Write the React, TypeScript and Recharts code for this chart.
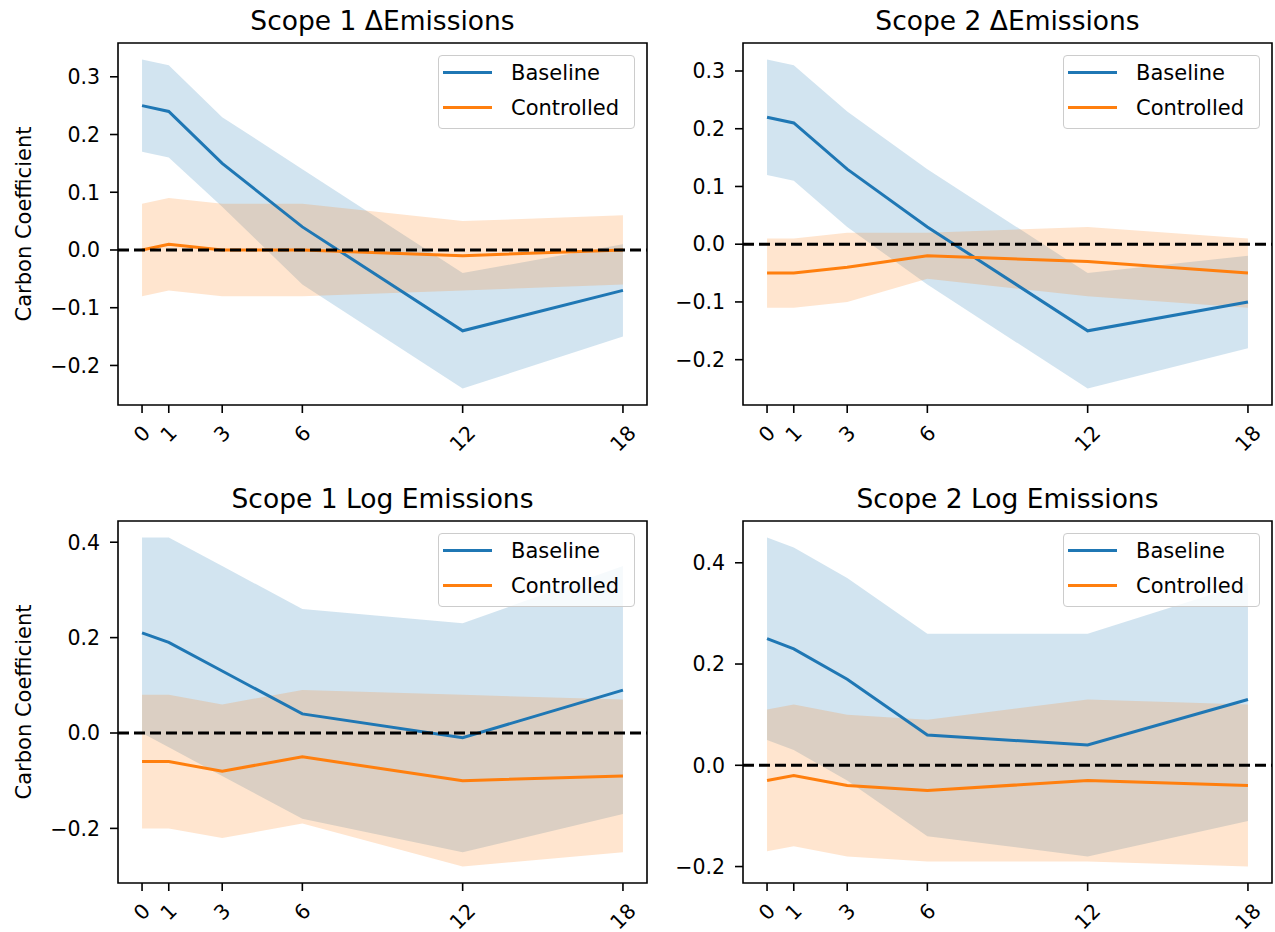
import React from 'react';
import {
    ComposedChart,
    Area,
    Line,
    XAxis,
    YAxis,
    ReferenceLine,
    ReferenceArea,
    Legend,
} from 'recharts';

const FONT = '"DejaVu Sans", sans-serif';
const BLUE = '#1f77b4';
const ORANGE = '#ff7f0e';

const months = [0, 1, 3, 6, 12, 18];
const seriesNames = ['Baseline', 'Controlled'];
const deltaTicks = [-0.2, -0.1, 0, 0.1, 0.2, 0.3];
const logTicks = [-0.2, 0, 0.2, 0.4];

// Scope 1 ΔEmissions
const s1DeltaBase = [0.25, 0.24, 0.15, 0.04, -0.14, -0.07];
const s1DeltaBaseLo = [0.17, 0.16, 0.075, -0.06, -0.24, -0.15];
const s1DeltaBaseHi = [0.33, 0.32, 0.23, 0.14, -0.04, 0.01];
const s1DeltaCtrl = [0.0, 0.01, 0.0, 0.0, -0.01, 0.0];
const s1DeltaCtrlLo = [-0.08, -0.07, -0.08, -0.08, -0.07, -0.06];
const s1DeltaCtrlHi = [0.08, 0.09, 0.08, 0.08, 0.05, 0.06];

// Scope 2 ΔEmissions
const s2DeltaBase = [0.22, 0.21, 0.13, 0.03, -0.15, -0.1];
const s2DeltaBaseLo = [0.12, 0.11, 0.03, -0.07, -0.25, -0.18];
const s2DeltaBaseHi = [0.32, 0.31, 0.23, 0.13, -0.05, -0.02];
const s2DeltaCtrl = [-0.05, -0.05, -0.04, -0.02, -0.03, -0.05];
const s2DeltaCtrlLo = [-0.11, -0.11, -0.1, -0.06, -0.09, -0.11];
const s2DeltaCtrlHi = [0.01, 0.01, 0.02, 0.02, 0.03, 0.01];

// Scope 1 Log Emissions
const s1LogBase = [0.21, 0.19, 0.13, 0.04, -0.01, 0.09];
const s1LogBaseLo = [0.0, -0.03, -0.09, -0.18, -0.25, -0.17];
const s1LogBaseHi = [0.41, 0.41, 0.35, 0.26, 0.23, 0.35];
const s1LogCtrl = [-0.06, -0.06, -0.08, -0.05, -0.1, -0.09];
const s1LogCtrlLo = [-0.2, -0.2, -0.22, -0.19, -0.28, -0.25];
const s1LogCtrlHi = [0.08, 0.08, 0.06, 0.09, 0.08, 0.07];

// Scope 2 Log Emissions
const s2LogBase = [0.25, 0.23, 0.17, 0.06, 0.04, 0.13];
const s2LogBaseLo = [0.05, 0.03, -0.03, -0.14, -0.18, -0.11];
const s2LogBaseHi = [0.45, 0.43, 0.37, 0.26, 0.26, 0.36];
const s2LogCtrl = [-0.03, -0.02, -0.04, -0.05, -0.03, -0.04];
const s2LogCtrlLo = [-0.17, -0.16, -0.18, -0.19, -0.19, -0.2];
const s2LogCtrlHi = [0.11, 0.12, 0.1, 0.09, 0.13, 0.12];

// plot frame geometry (matplotlib-like layout)
const FRAME_W = 529;
const FRAME_H = 362;
const AXIS_W = 110;
const TOP = 43;

const panels = [
    {
        title: 'Scope 1 ΔEmissions', left: 118, top: 43, yLabel: true, ticks: deltaTicks,
        base: s1DeltaBase, baseLo: s1DeltaBaseLo, baseHi: s1DeltaBaseHi,
        ctrl: s1DeltaCtrl, ctrlLo: s1DeltaCtrlLo, ctrlHi: s1DeltaCtrlHi,
    },
    {
        title: 'Scope 2 ΔEmissions', left: 743, top: 43, yLabel: false, ticks: deltaTicks,
        base: s2DeltaBase, baseLo: s2DeltaBaseLo, baseHi: s2DeltaBaseHi,
        ctrl: s2DeltaCtrl, ctrlLo: s2DeltaCtrlLo, ctrlHi: s2DeltaCtrlHi,
    },
    {
        title: 'Scope 1 Log Emissions', left: 118, top: 521, yLabel: true, ticks: logTicks,
        base: s1LogBase, baseLo: s1LogBaseLo, baseHi: s1LogBaseHi,
        ctrl: s1LogCtrl, ctrlLo: s1LogCtrlLo, ctrlHi: s1LogCtrlHi,
    },
    {
        title: 'Scope 2 Log Emissions', left: 743, top: 521, yLabel: false, ticks: logTicks,
        base: s2LogBase, baseLo: s2LogBaseLo, baseHi: s2LogBaseHi,
        ctrl: s2LogCtrl, ctrlLo: s2LogCtrlLo, ctrlHi: s2LogCtrlHi,
    },
];

const fmtY = (v: number) => {
    const s = Math.abs(v).toFixed(1);
    return v < -1e-9 ? '\u2212' + s : s;
};

function XTick(props: any) {
    const { x, y, payload } = props;
    const label = String(payload.value);
    const fs = 20.5;
    const w = label.length * 0.636 * fs;
    const h = 1.164 * fs;
    const cy = y + 8 + (w + h) / Math.SQRT2 / 2;
    return (
        <text
            x={x}
            y={cy}
            textAnchor="middle"
            dominantBaseline="central"
            fontSize={fs}
            fontFamily={FONT}
            fill="#000"
            transform={`rotate(-45, ${x}, ${cy})`}
        >
            {label}
        </text>
    );
}

function LegendBox() {
    const colors = [BLUE, ORANGE];
    return (
        <div
            style={{
                width: 197,
                height: 74,
                boxSizing: 'border-box',
                border: '1.6px solid #cccccc',
                borderRadius: 4,
                background: 'rgba(255,255,255,0.8)',
                position: 'relative',
                fontFamily: FONT,
                fontSize: 21,
                color: '#000',
            }}
        >
            {seriesNames.map((name, i) => (
                <React.Fragment key={name}>
                    <div
                        style={{
                            position: 'absolute',
                            left: 4,
                            top: 16.5 + i * 35 - 1.5,
                            width: 49,
                            height: 3,
                            background: colors[i],
                        }}
                    />
                    <div
                        style={{
                            position: 'absolute',
                            left: 72,
                            top: 16.5 + i * 35 - 11,
                            lineHeight: '22px',
                            whiteSpace: 'nowrap',
                        }}
                    >
                        {name}
                    </div>
                </React.Fragment>
            ))}
        </div>
    );
}

function Panel({ p }: { p: any }) {
    const rows = months.map((m, i) => ({
        m,
        base: p.base[i],
        baseBand: [p.baseLo[i], p.baseHi[i]],
        ctrl: p.ctrl[i],
        ctrlBand: [p.ctrlLo[i], p.ctrlHi[i]],
    }));
    const lo = Math.min(...p.baseLo, ...p.ctrlLo);
    const hi = Math.max(...p.baseHi, ...p.ctrlHi);
    const pad = (hi - lo) * 0.05;
    const y0 = lo - pad;
    const y1 = hi + pad;
    const xPad = (months[months.length - 1] - months[0]) * 0.05;
    const x0 = months[0] - xPad;
    const x1 = months[months.length - 1] + xPad;

    return (
        <div style={{ position: 'absolute', left: p.left - AXIS_W, top: p.top - TOP }}>
            <div
                style={{
                    position: 'absolute',
                    left: AXIS_W,
                    top: 8,
                    width: FRAME_W,
                    textAlign: 'center',
                    fontFamily: FONT,
                    fontSize: 26.5,
                    lineHeight: '26.5px',
                    color: '#000',
                    whiteSpace: 'nowrap',
                }}
            >
                {p.title}
            </div>
            {p.yLabel && (
                <div
                    style={{
                        position: 'absolute',
                        left: 24 - 150 - (p.left - AXIS_W),
                        top: TOP + FRAME_H / 2 - 11,
                        width: 300,
                        textAlign: 'center',
                        fontFamily: FONT,
                        fontSize: 21,
                        lineHeight: '22px',
                        color: '#000',
                        transform: 'rotate(-90deg)',
                        whiteSpace: 'nowrap',
                    }}
                >
                    Carbon Coefficient
                </div>
            )}
            <ComposedChart
                width={AXIS_W + FRAME_W + 4}
                height={TOP + FRAME_H + 75}
                data={rows}
                margin={{ top: TOP, right: 4, bottom: 0, left: 0 }}
            >
                <XAxis
                    dataKey="m"
                    type="number"
                    domain={[x0, x1]}
                    ticks={months}
                    interval={0}
                    allowDataOverflow
                    axisLine={false}
                    tickLine={{ stroke: '#000', strokeWidth: 1.6 }}
                    tickSize={8}
                    tickMargin={0}
                    height={75}
                    tick={<XTick />}
                />
                <YAxis
                    type="number"
                    domain={[y0, y1]}
                    ticks={p.ticks}
                    interval={0}
                    allowDataOverflow
                    axisLine={false}
                    tickLine={{ stroke: '#000', strokeWidth: 1.6 }}
                    tickSize={8}
                    tickMargin={10}
                    width={AXIS_W}
                    tick={{ fill: '#000', fontSize: 20.5, fontFamily: FONT }}
                    tickFormatter={fmtY}
                />
                <Area
                    type="linear"
                    dataKey="baseBand"
                    fill={BLUE}
                    fillOpacity={0.2}
                    stroke="none"
                    dot={false}
                    activeDot={false}
                    isAnimationActive={false}
                />
                <Area
                    type="linear"
                    dataKey="ctrlBand"
                    fill={ORANGE}
                    fillOpacity={0.2}
                    stroke="none"
                    dot={false}
                    activeDot={false}
                    isAnimationActive={false}
                />
                <Line
                    type="linear"
                    dataKey="base"
                    stroke={BLUE}
                    strokeWidth={3}
                    dot={false}
                    activeDot={false}
                    isAnimationActive={false}
                />
                <Line
                    type="linear"
                    dataKey="ctrl"
                    stroke={ORANGE}
                    strokeWidth={3}
                    dot={false}
                    activeDot={false}
                    isAnimationActive={false}
                />
                <ReferenceLine y={0} stroke="#000" strokeWidth={3} strokeDasharray="11 5" />
                <ReferenceArea
                    x1={x0}
                    x2={x1}
                    y1={y0}
                    y2={y1}
                    fill="none"
                    fillOpacity={0}
                    stroke="#000"
                    strokeWidth={1.6}
                    ifOverflow="visible"
                />
                <Legend
                    layout="vertical"
                    align="center"
                    verticalAlign="middle"
                    wrapperStyle={{ left: AXIS_W + FRAME_W - 12 - 197, top: TOP + 12, width: 197 }}
                    content={() => <LegendBox />}
                />
            </ComposedChart>
        </div>
    );
}

export default function App() {
    return (
        <div style={{ position: 'absolute', left: 0, top: 0, width: 1275, height: 932, background: '#fff' }}>
            {panels.map((p) => (
                <Panel key={p.title} p={p} />
            ))}
        </div>
    );
}
